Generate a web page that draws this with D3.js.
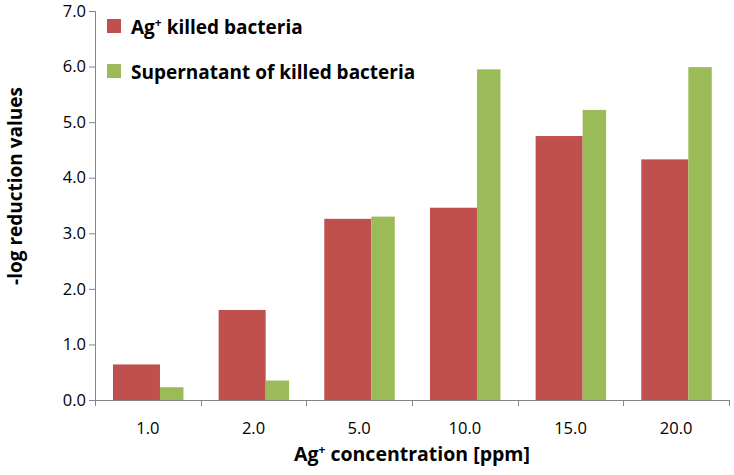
<!DOCTYPE html>
<html>
<head>
<meta charset="utf-8">
<script src="https://cdn.jsdelivr.net/npm/d3@7"></script>
<style>
  html, body { margin: 0; padding: 0; background: #fff; }
  text { font-family: "Open Sans", "DejaVu Sans", sans-serif; fill: #000; }
</style>
</head>
<body>
<div id="chart"></div>
<script>
// data
const categories = ['1.0', '2.0', '5.0', '10.0', '15.0', '20.0'];
const killedValues = [0.64, 1.62, 3.26, 3.46, 4.75, 4.33];
const supernatantValues = [0.23, 0.35, 3.30, 5.95, 5.22, 5.99];
const yTicks = [0, 1, 2, 3, 4, 5, 6, 7];

const w = 734;
const h = 475;

// plot area
const margin = { top: 11, right: 5, bottom: 75, left: 95 };
const innerWidth = w - margin.left - margin.right;
const innerHeight = h - margin.top - margin.bottom;

const red = '#C0504D';
const green = '#9BBB59';
const axisColor = '#868686';

const svg = d3.select('#chart')
    .append('svg')
    .attr('width', w)
    .attr('height', h);

const g = svg.append('g')
    .attr('transform', `translate(${margin.left},${margin.top})`);

// band scale for the categories
const xScale = d3.scaleBand()
    .domain(categories)
    .range([0, innerWidth]);

const yScale = d3.scaleLinear()
    .domain([0, 7])
    .range([innerHeight, 0]);

// bars - red bar is wider than the green one in the original
const bw = xScale.bandwidth();
const redStart = bw * 0.17;
const redWidth = bw * 0.445;
const greenWidth = bw * 0.222;

const rows = categories.map((c, i) => ({
    cat: c,
    killed: killedValues[i],
    supernatant: supernatantValues[i]
}));

g.selectAll('rect.killed')
    .data(rows)
    .enter()
    .append('rect')
    .attr('class', 'killed')
    .attr('x', d => xScale(d.cat) + redStart)
    .attr('y', d => yScale(d.killed))
    .attr('width', redWidth)
    .attr('height', d => innerHeight - yScale(d.killed))
    .attr('fill', red);

g.selectAll('rect.super')
    .data(rows)
    .enter()
    .append('rect')
    .attr('class', 'super')
    .attr('x', d => xScale(d.cat) + redStart + redWidth)
    .attr('y', d => yScale(d.supernatant))
    .attr('width', greenWidth)
    .attr('height', d => innerHeight - yScale(d.supernatant))
    .attr('fill', green);

// y axis
const yAxisG = g.append('g')
    .call(d3.axisLeft(yScale)
        .tickValues(yTicks)
        .tickSize(6)
        .tickPadding(3)
        .tickFormat(d3.format('.1f')));

yAxisG.selectAll('path, line').attr('stroke', axisColor);
yAxisG.select('.domain').attr('d', `M0.5,0V${innerHeight}`);
yAxisG.selectAll('text')
    .style('font-size', '16.5px')
    .attr('fill', '#000');

// x axis - ticks at the band edges
const xAxisG = g.append('g')
    .attr('transform', `translate(0,${innerHeight})`)
    .call(d3.axisBottom(xScale).tickSize(0).tickPadding(22));

xAxisG.select('.domain').attr('stroke', axisColor).attr('d', `M0,0.5H${innerWidth}`);
xAxisG.selectAll('text')
    .style('font-size', '16.5px')
    .attr('fill', '#000');

const edges = categories.map(c => xScale(c)).concat([innerWidth]);
xAxisG.selectAll('line.edge')
    .data(edges)
    .enter()
    .append('line')
    .attr('class', 'edge')
    .attr('x1', d => Math.round(d) + 0.5)
    .attr('x2', d => Math.round(d) + 0.5)
    .attr('y1', 0)
    .attr('y2', 6)
    .attr('stroke', axisColor);

// axis titles
svg.append('text')
    .attr('transform', `translate(22,186) rotate(-90)`)
    .attr('text-anchor', 'middle')
    .style('font-size', '19px')
    .style('font-weight', 'bold')
    .text('-log reduction values');

const xTitle = svg.append('text')
    .attr('x', margin.left + innerWidth / 2)
    .attr('y', 461)
    .attr('text-anchor', 'middle')
    .style('font-size', '19.5px')
    .style('font-weight', 'bold');
xTitle.append('tspan').text('Ag');
xTitle.append('tspan').attr('dy', -7).style('font-size', '12px').text('+');
xTitle.append('tspan').attr('dy', 7).text(' concentration [ppm]');

// legend
const legend = svg.append('g').attr('transform', 'translate(107,19)');

const legendItems = [
    { color: red, parts: [['Ag', 0], ['+', 1], [' killed bacteria', 0]] },
    { color: green, parts: [['Supernatant of killed bacteria', 0]] }
];

legendItems.forEach((item, i) => {
    const row = legend.append('g').attr('transform', `translate(0,${i * 45})`);
    row.append('rect')
        .attr('width', 14)
        .attr('height', 14)
        .attr('fill', item.color);
    const t = row.append('text')
        .attr('x', 24)
        .attr('y', 15)
        .style('font-size', '19px')
        .style('font-weight', 'bold');
    item.parts.forEach(p => {
        if (p[1]) {
            t.append('tspan').attr('dy', -7).style('font-size', '12px').text(p[0]);
        } else {
            const s = t.append('tspan').text(p[0]);
            if (p[0].startsWith(' ')) s.attr('dy', 7);
        }
    });
});
</script>
</body>
</html>
